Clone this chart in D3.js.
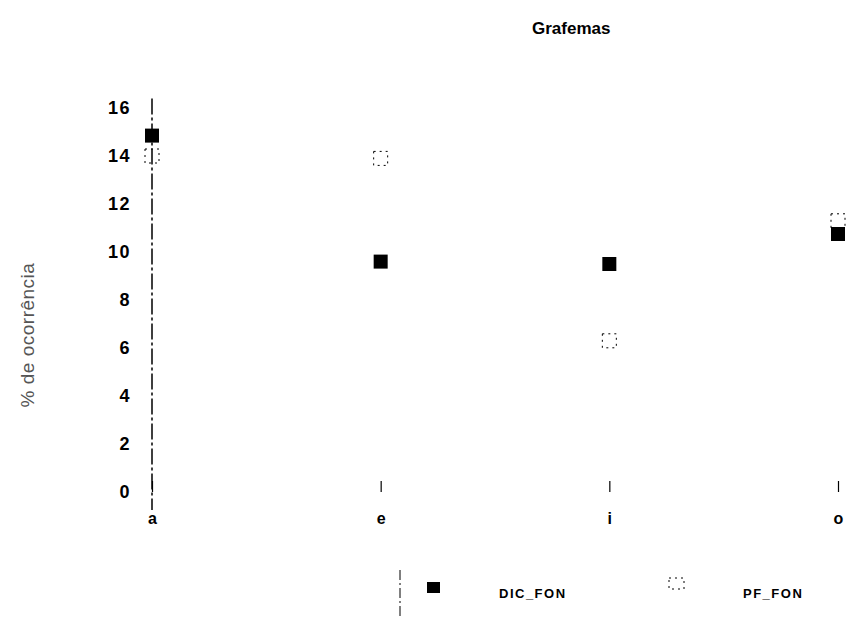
<!DOCTYPE html>
<html>
<head>
<meta charset="utf-8">
<script src="https://cdn.jsdelivr.net/npm/d3@7"></script>
<style>
  body { margin: 0; background: white; }
  text { font-family: "Liberation Sans", Arial, sans-serif; }
</style>
</head>
<body>
<div id="chart"></div>
<script>
// categories and series
let grafemas = ["a", "e", "i", "o"];
let dicFon = [14.85, 9.6, 9.5, 10.75];
let pfFon = [14.0, 13.9, 6.3, 11.3];
let yTicks = [0, 2, 4, 6, 8, 10, 12, 14, 16];
let seriesNames = ["DIC_FON", "PF_FON"];

let width = 854, height = 619;

let svg = d3.select("#chart")
  .append("svg")
  .attr("width", width)
  .attr("height", height)
  .style("background-color", "white");

//scales
let x = d3.scalePoint().domain(grafemas).range([152, 838]),
    y = d3.scaleLinear().domain([0, 16]).range([492, 108]);

//title
svg.append("text")
  .attr("x", 532)
  .attr("y", 34)
  .attr("font-size", 17)
  .attr("font-weight", "bold")
  .text("Grafemas");

//y axis line (broken, like the scan)
svg.append("line")
  .attr("x1", x("a")).attr("x2", x("a"))
  .attr("y1", y(16.4)).attr("y2", y(-0.75))
  .attr("stroke", "black")
  .attr("stroke-width", 1.5)
  .attr("stroke-dasharray", "16,3,3,3");

let yAxis = svg.append("g")
  .attr("transform", "translate(" + x("a") + ",0)")
  .call(d3.axisLeft(y).tickValues(yTicks).tickSize(0).tickPadding(21));
yAxis.select(".domain").remove();
yAxis.selectAll("text")
  .attr("font-size", 18)
  .attr("font-weight", "bold")
  .attr("letter-spacing", 1.5)
  .attr("font-family", "Liberation Sans, Arial, sans-serif");

//x axis, small ticks pointing up, no baseline
let xAxis = svg.append("g")
  .attr("transform", "translate(0," + y(0) + ")")
  .call(d3.axisBottom(x).tickSizeInner(-11).tickSizeOuter(0).tickPadding(21));
xAxis.select(".domain").remove();
xAxis.selectAll("line").attr("stroke-width", 1.2);
xAxis.selectAll("text")
  .attr("font-size", 16)
  .attr("font-weight", "bold")
  .attr("font-family", "Liberation Sans, Arial, sans-serif");

//y label
svg.append("text")
  .attr("transform", "translate(34,335) rotate(-90)")
  .attr("text-anchor", "middle")
  .attr("font-size", 19)
  .attr("letter-spacing", 0.5)
  .attr("fill", "#555")
  .text("% de ocorrência");

//PF_FON: open squares
svg.selectAll(".pf")
  .data(pfFon)
  .enter().append("rect")
  .attr("class", "pf")
  .attr("x", function(d, i) { return x(grafemas[i]) - 7; })
  .attr("y", function(d) { return y(d) - 7; })
  .attr("width", 14)
  .attr("height", 14)
  .attr("fill", "none")
  .attr("stroke", "black")
  .attr("stroke-width", 1)
  .attr("stroke-dasharray", "2,4");

//DIC_FON: filled squares
svg.selectAll(".dic")
  .data(dicFon)
  .enter().append("rect")
  .attr("class", "dic")
  .attr("x", function(d, i) { return x(grafemas[i]) - 7; })
  .attr("y", function(d) { return y(d) - 7; })
  .attr("width", 14)
  .attr("height", 14)
  .attr("fill", "black");

//legend
let legend = svg.append("g");
legend.append("line")
  .attr("x1", 400).attr("x2", 400)
  .attr("y1", 570).attr("y2", 619)
  .attr("stroke", "black")
  .attr("stroke-dasharray", "10,3,2,3");
legend.append("rect")
  .attr("x", 427).attr("y", 582)
  .attr("width", 13).attr("height", 11)
  .attr("fill", "black");
legend.append("rect")
  .attr("x", 669).attr("y", 578)
  .attr("width", 15).attr("height", 11)
  .attr("fill", "none")
  .attr("stroke", "black")
  .attr("stroke-dasharray", "2,4");
legend.selectAll(".ltext")
  .data(seriesNames)
  .enter().append("text")
  .attr("class", "ltext")
  .attr("x", function(d, i) { return i === 0 ? 499 : 743; })
  .attr("y", 598)
  .attr("font-size", 13)
  .attr("font-weight", "bold")
  .attr("letter-spacing", 1.5)
  .text(function(d) { return d; });
</script>
</body>
</html>
